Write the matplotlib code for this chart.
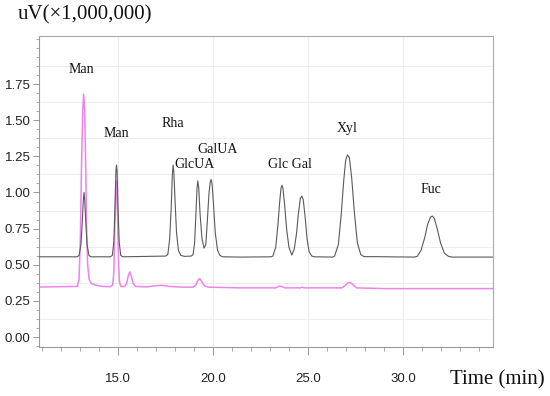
import matplotlib
matplotlib.use('Agg')
import matplotlib.pyplot as plt
from matplotlib.ticker import MultipleLocator, FixedLocator


# traced sample chromatogram (upper, gray)
t_std = [10.84, 12.85, 12.95, 13.05, 13.12, 13.17, 13.21, 13.25, 13.30, 13.37, 13.47, 13.57,
         14.60, 14.70, 14.78, 14.84, 14.89, 14.92, 14.95, 15.00, 15.06, 15.14, 15.25,
         17.50, 17.62, 17.72, 17.80, 17.86, 17.90, 17.94, 18.00, 18.08, 18.18, 18.30,
         18.50, 18.85, 18.95, 19.03, 19.10, 19.16, 19.20, 19.25, 19.32, 19.42, 19.53,
         19.62, 19.70, 19.78, 19.85, 19.90, 19.95, 20.02, 20.12, 20.24, 20.36, 20.50,
         21.50, 23.05, 23.15, 23.30, 23.42, 23.52, 23.58, 23.63, 23.68, 23.76, 23.88, 24.00, 24.15,
         24.28, 24.40, 24.50, 24.60, 24.68, 24.75, 24.85, 24.95, 25.06, 25.20, 25.35,
         26.30, 26.40, 26.60, 26.75, 26.88, 26.98, 27.08, 27.18, 27.30, 27.45, 27.60, 27.78, 27.95,
         28.50, 30.60, 30.75, 30.95, 31.15, 31.30, 31.45, 31.55, 31.65, 31.80, 31.98, 32.18, 32.40,
         32.60, 34.74]
v_std = [0.555, 0.555, 0.565, 0.64, 0.80, 0.94, 1.00, 0.94, 0.80, 0.64, 0.565, 0.555,
         0.555, 0.565, 0.66, 0.90, 1.15, 1.19, 1.15, 0.90, 0.66, 0.565, 0.555,
         0.56, 0.57, 0.68, 0.90, 1.12, 1.19, 1.14, 0.95, 0.72, 0.60, 0.565,
         0.558, 0.56, 0.57, 0.65, 0.85, 1.03, 1.08, 1.03, 0.85, 0.68, 0.615,
         0.64, 0.80, 0.98, 1.07, 1.09, 1.06, 0.93, 0.72, 0.60, 0.565, 0.555,
         0.553, 0.555, 0.56, 0.62, 0.78, 0.95, 1.03, 1.05, 1.03, 0.93, 0.74, 0.62, 0.567,
         0.61, 0.72, 0.86, 0.96, 0.975, 0.95, 0.83, 0.68, 0.59, 0.56, 0.555,
         0.553, 0.56, 0.64, 0.85, 1.08, 1.22, 1.26, 1.24, 1.10, 0.85, 0.65, 0.57, 0.556,
         0.556, 0.553, 0.558, 0.60, 0.69, 0.78, 0.83, 0.837, 0.82, 0.75, 0.65, 0.58, 0.558,
         0.553, 0.553]

# traced sample chromatogram (lower, magenta)
t_smp = [10.84, 12.85, 12.95, 13.02, 13.08, 13.14, 13.19, 13.24, 13.29, 13.34, 13.40, 13.48,
         13.60, 13.80, 14.20, 14.60, 14.72, 14.78, 14.83, 14.88, 14.91, 14.94, 14.98, 15.03, 15.08, 15.15,
         15.35, 15.45, 15.55, 15.62, 15.70, 15.80, 15.92,
         16.50, 17.00, 17.30, 17.70, 18.40, 18.95, 19.10, 19.22, 19.30, 19.40, 19.55, 19.75,
         21.50, 23.30, 23.50, 23.62, 23.80, 24.60, 24.70, 24.80,
         26.80, 26.95, 27.10, 27.22, 27.38, 27.55, 29.00, 34.74]
v_smp = [0.346, 0.35, 0.40, 0.70, 1.20, 1.55, 1.68, 1.58, 1.25, 0.80, 0.50, 0.40,
         0.37, 0.36, 0.35, 0.348, 0.36, 0.45, 0.75, 1.02, 1.08, 1.03, 0.80, 0.50, 0.38, 0.35,
         0.35, 0.37, 0.43, 0.45, 0.42, 0.37, 0.35,
         0.347, 0.355, 0.358, 0.35, 0.345, 0.345, 0.36, 0.395, 0.405, 0.385, 0.355, 0.345,
         0.34, 0.34, 0.352, 0.35, 0.34, 0.34, 0.345, 0.34,
         0.34, 0.355, 0.375, 0.378, 0.36, 0.34, 0.335, 0.335]

# peak labels
peak_names = ['Man', 'Man', 'Rha', 'GalUA', 'GlcUA', 'Glc Gal', 'Xyl', 'Fuc']
peak_t = [13.05, 14.92, 17.87, 20.26, 19.05, 24.05, 27.05, 31.45]
peak_v = [1.85, 1.41, 1.48, 1.30, 1.195, 1.195, 1.445, 1.02]

y_ticks = [0.00, 0.25, 0.50, 0.75, 1.00, 1.25, 1.50, 1.75]
x_ticks = [15.0, 20.0, 25.0, 30.0]

fig = plt.figure(figsize=(5.5, 3.96), dpi=100)
ax = fig.add_axes([0.0709, 0.1237, 0.8255, 0.7853])

# grid
for g in [0.125, 0.375, 0.625, 0.875, 1.125, 1.375, 1.625, 1.875]:
    ax.axhline(g, color='#ededed', lw=0.7, zorder=0)
for g in x_ticks:
    ax.axvline(g, color='#ededed', lw=0.7, zorder=0)

ax.plot(t_smp, v_smp, color='#ec84ec', lw=1.1, zorder=2)
ax.plot(t_std, v_std, color='#5a5a5a', lw=0.8, zorder=3)

for name, t, v in zip(peak_names, peak_t, peak_v):
    ax.text(t, v, name, ha='center', va='center', fontsize=10,
            family='Liberation Serif', color='#111111')

ax.set_xlim(10.84, 34.74)
ax.set_ylim(-0.069, 2.082)

ax.yaxis.set_major_locator(FixedLocator(y_ticks))
ax.yaxis.set_minor_locator(MultipleLocator(0.0625))
ax.set_yticklabels(['%.2f' % y for y in y_ticks])
ax.xaxis.set_major_locator(FixedLocator(x_ticks))
ax.xaxis.set_minor_locator(MultipleLocator(1.0))
ax.set_xticklabels(['%.1f' % x for x in x_ticks])

for lab in ax.get_xticklabels() + ax.get_yticklabels():
    lab.set_family('Liberation Sans')
    lab.set_fontsize(9.5)
    lab.set_color('#222222')

ax.tick_params(axis='y', which='major', direction='out', length=4, width=0.6,
               color='#888888', pad=2)
ax.tick_params(axis='y', which='minor', direction='out', length=2.5, width=0.5,
               color='#888888')
ax.tick_params(axis='x', which='major', direction='out', length=6, width=0.6,
               color='#888888', pad=13)
ax.tick_params(axis='x', which='minor', direction='out', length=3, width=0.5,
               color='#888888')

for s in ['left', 'bottom']:
    ax.spines[s].set_color('#999999')
    ax.spines[s].set_linewidth(0.8)
for s in ['top', 'right']:
    ax.spines[s].set_color('#aaaaaa')
    ax.spines[s].set_linewidth(0.8)

fig.text(18 / 550, 1 - 15 / 396, 'uV(\u00d71,000,000)', ha='left', va='center',
         fontsize=15, family='Liberation Serif', color='#111111')
fig.text(545 / 550, 1 - 380 / 396, 'Time (min)', ha='right', va='center',
         fontsize=15, family='Liberation Serif', color='#111111')

fig.savefig('out.png', dpi=100)
